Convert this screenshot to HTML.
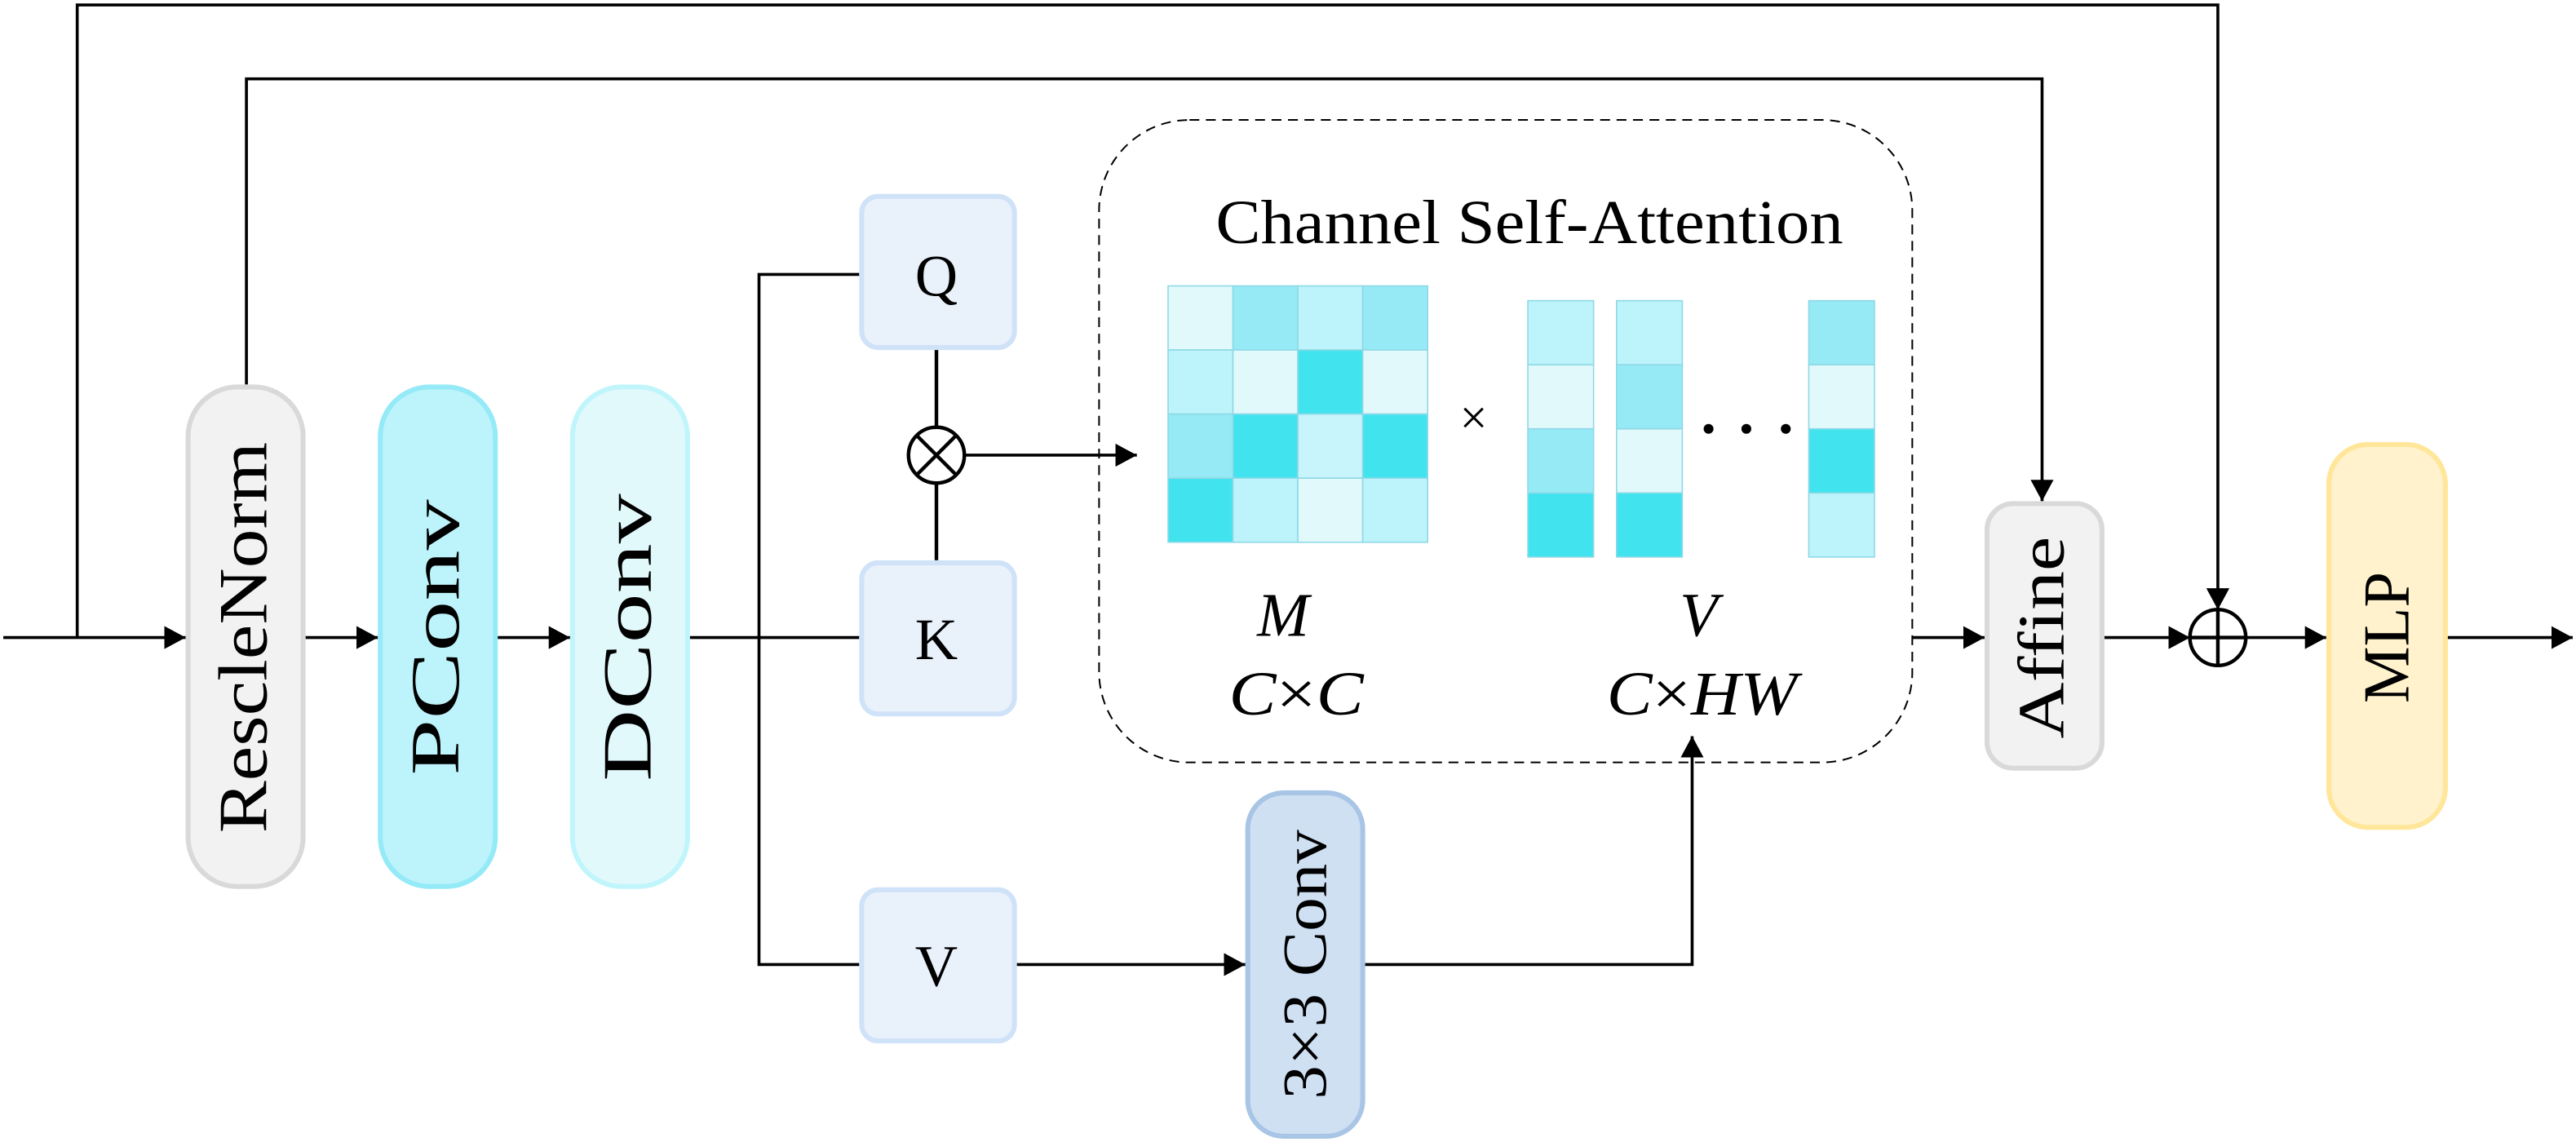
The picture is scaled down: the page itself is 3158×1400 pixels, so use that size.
<!DOCTYPE html>
<html><head><meta charset="utf-8"><style>
html,body{margin:0;padding:0;background:#fff;}
svg{display:block;}
text{font-family:"Liberation Serif","DejaVu Serif",serif;fill:#000;}
</style></head><body>
<svg width="3158" height="1400" viewBox="0 0 1568 695" preserveAspectRatio="none" xmlns="http://www.w3.org/2000/svg" font-family="Liberation Serif, serif">
<defs>
<marker id="a" markerWidth="13" markerHeight="14" refX="13" refY="7" orient="auto" markerUnits="userSpaceOnUse"><path d="M0,0 L13,7 L0,14 Z" fill="#000"/></marker>
</defs>
<g stroke="#000" stroke-width="1.8" fill="none">
<line x1="2" y1="388" x2="113" y2="388" marker-end="url(#a)"/>
<polyline points="47,388 47,3 1350,3 1350,371" marker-end="url(#a)"/>
<polyline points="150,234 150,48 1243,48 1243,305" marker-end="url(#a)"/>
<line x1="186" y1="388" x2="230" y2="388" marker-end="url(#a)"/>
<line x1="302" y1="388" x2="347" y2="388" marker-end="url(#a)"/>
<line x1="419" y1="388" x2="523" y2="388"/>
<polyline points="523,167 462,167 462,587 523,587"/>
<line x1="570" y1="212" x2="570" y2="260" stroke-width="2.2"/>
<line x1="570" y1="294" x2="570" y2="341" stroke-width="2.2"/>
<line x1="587" y1="277" x2="692" y2="277" marker-end="url(#a)"/>
<line x1="618" y1="587" x2="758" y2="587" marker-end="url(#a)"/>
<polyline points="830,587 1030,587 1030,448" marker-end="url(#a)"/>
<line x1="1164" y1="388" x2="1208" y2="388" marker-end="url(#a)"/>
<line x1="1280" y1="388" x2="1333" y2="388" marker-end="url(#a)"/>
<line x1="1367" y1="388" x2="1416" y2="388" marker-end="url(#a)"/>
<line x1="1489" y1="388" x2="1566" y2="388" marker-end="url(#a)"/>
<circle cx="570" cy="277" r="17" stroke-width="2.2"/>
<line x1="558" y1="265" x2="582" y2="289" stroke-width="2.2"/>
<line x1="582" y1="265" x2="558" y2="289" stroke-width="2.2"/>
<circle cx="1350" cy="388" r="17" stroke-width="2.2"/>
<line x1="1350" y1="371" x2="1350" y2="405" stroke-width="2.2"/>
<line x1="1333" y1="388" x2="1367" y2="388" stroke-width="2.2"/>
</g>
<rect x="669" y="73" width="495" height="391" rx="55" fill="none" stroke="#000" stroke-width="1" stroke-dasharray="6,4"/>
<rect x="114.5" y="235.5" width="70" height="304" rx="30" fill="#f2f2f2" stroke="#d9d9d9" stroke-width="3"/>
<rect x="231.5" y="235.5" width="70" height="304" rx="30" fill="#bdf3fa" stroke="#95eaf7" stroke-width="3"/>
<rect x="348.5" y="235.5" width="70" height="304" rx="30" fill="#e2f9fc" stroke="#c0f5fb" stroke-width="3"/>
<rect x="524.5" y="119.5" width="93" height="92" rx="10" fill="#e9f1fb" stroke="#cfe2f8" stroke-width="3"/>
<rect x="524.5" y="342.5" width="93" height="92" rx="10" fill="#e9f1fb" stroke="#cfe2f8" stroke-width="3"/>
<rect x="524.5" y="541.5" width="93" height="92" rx="10" fill="#e9f1fb" stroke="#cfe2f8" stroke-width="3"/>
<rect x="759.5" y="482.5" width="70" height="209" rx="22" fill="#cfe0f3" stroke="#a8c5e6" stroke-width="3"/>
<rect x="1209.5" y="306.5" width="70" height="161" rx="16" fill="#f2f2f2" stroke="#d9d9d9" stroke-width="3"/>
<rect x="1417.5" y="270.5" width="71" height="233" rx="24" fill="#fff2cc" stroke="#ffe699" stroke-width="3"/>
<g stroke="#8fd9e6" stroke-width="0.8">
<rect x="711" y="174" width="39.5" height="39" fill="#e2f9fc"/><rect x="750.5" y="174" width="39.5" height="39" fill="#95eaf6"/><rect x="790" y="174" width="39.5" height="39" fill="#bdf3fa"/><rect x="829.5" y="174" width="39.5" height="39" fill="#95eaf6"/>
<rect x="711" y="213" width="39.5" height="39" fill="#bdf3fa"/><rect x="750.5" y="213" width="39.5" height="39" fill="#e2f9fc"/><rect x="790" y="213" width="39.5" height="39" fill="#41e3ef"/><rect x="829.5" y="213" width="39.5" height="39" fill="#e2f9fc"/>
<rect x="711" y="252" width="39.5" height="39" fill="#95eaf6"/><rect x="750.5" y="252" width="39.5" height="39" fill="#41e3ef"/><rect x="790" y="252" width="39.5" height="39" fill="#c8f5fb"/><rect x="829.5" y="252" width="39.5" height="39" fill="#41e3ef"/>
<rect x="711" y="291" width="39.5" height="39" fill="#41e3ef"/><rect x="750.5" y="291" width="39.5" height="39" fill="#bdf3fa"/><rect x="790" y="291" width="39.5" height="39" fill="#e2f9fc"/><rect x="829.5" y="291" width="39.5" height="39" fill="#bdf3fa"/>
<rect x="930" y="183" width="40" height="39" fill="#bdf3fa"/><rect x="930" y="222" width="40" height="39" fill="#e2f9fc"/><rect x="930" y="261" width="40" height="39" fill="#95eaf6"/><rect x="930" y="300" width="40" height="39" fill="#41e3ef"/>
<rect x="984" y="183" width="40" height="39" fill="#bdf3fa"/><rect x="984" y="222" width="40" height="39" fill="#95eaf6"/><rect x="984" y="261" width="40" height="39" fill="#e2f9fc"/><rect x="984" y="300" width="40" height="39" fill="#41e3ef"/>
<rect x="1101" y="183" width="40" height="39" fill="#95eaf6"/><rect x="1101" y="222" width="40" height="39" fill="#e2f9fc"/><rect x="1101" y="261" width="40" height="39" fill="#41e3ef"/><rect x="1101" y="300" width="40" height="39" fill="#bdf3fa"/>
</g>
<circle cx="1040" cy="261" r="3" fill="#000"/><circle cx="1063" cy="261" r="3" fill="#000"/><circle cx="1087" cy="261" r="3" fill="#000"/>
<text x="897" y="264" font-size="30" text-anchor="middle">×</text>
<text x="740" y="148" font-size="38" textLength="382" lengthAdjust="spacingAndGlyphs">Channel Self-Attention</text>
<text x="781" y="387" font-size="38" text-anchor="middle" font-style="italic">M</text>
<text x="748" y="435" font-size="38" textLength="82" lengthAdjust="spacingAndGlyphs"><tspan font-style="italic">C</tspan>×<tspan font-style="italic">C</tspan></text>
<text x="1034" y="387" font-size="38" text-anchor="middle" font-style="italic">V</text>
<text x="978" y="435" font-size="38" textLength="116" lengthAdjust="spacingAndGlyphs"><tspan font-style="italic">C</tspan>×<tspan font-style="italic">HW</tspan></text>
<text x="570" y="180" font-size="36" text-anchor="middle">Q</text>
<text x="570" y="401" font-size="36" text-anchor="middle">K</text>
<text x="570" y="600" font-size="36" text-anchor="middle">V</text>
<text transform="translate(162,388) rotate(-90)" font-size="42" text-anchor="middle" textLength="238" lengthAdjust="spacingAndGlyphs">RescleNorm</text>
<text transform="translate(279,388) rotate(-90)" font-size="42" text-anchor="middle" textLength="168" lengthAdjust="spacingAndGlyphs">PConv</text>
<text transform="translate(396,388) rotate(-90)" font-size="42" text-anchor="middle" textLength="175" lengthAdjust="spacingAndGlyphs">DConv</text>
<text transform="translate(807,587) rotate(-90)" font-size="38" text-anchor="middle" textLength="164" lengthAdjust="spacingAndGlyphs">3×3 Conv</text>
<text transform="translate(1256,388) rotate(-90)" font-size="40" text-anchor="middle" textLength="123" lengthAdjust="spacingAndGlyphs">Affine</text>
<text transform="translate(1466,388) rotate(-90)" font-size="40" text-anchor="middle" textLength="80" lengthAdjust="spacingAndGlyphs">MLP</text>
</svg>
</body></html>
